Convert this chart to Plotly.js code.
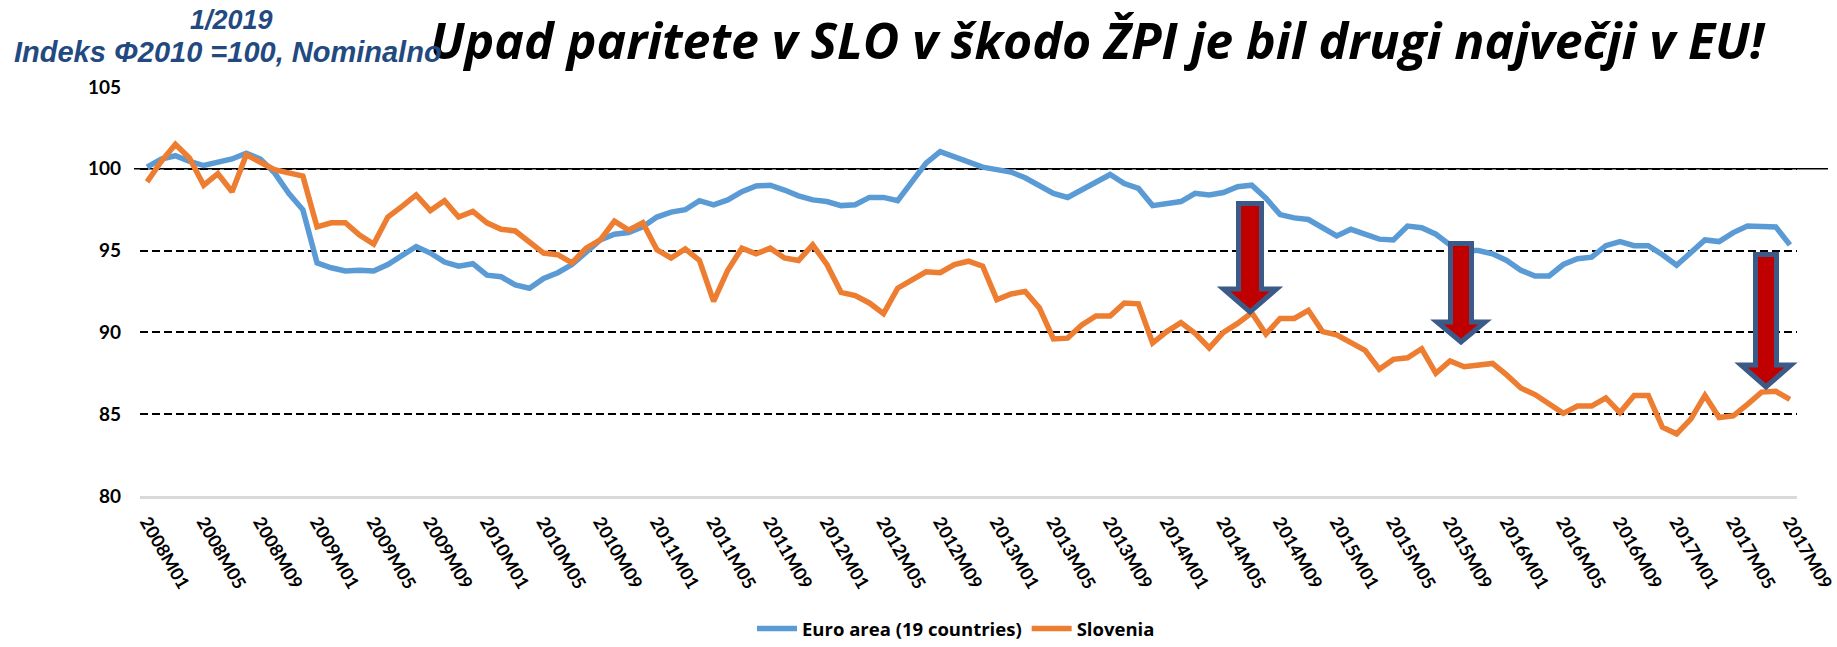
<!DOCTYPE html>
<html>
<head>
<meta charset="utf-8">
<script src="https://cdn.plot.ly/plotly-3.0.1.min.js"></script>
<style>
  html, body { margin: 0; padding: 0; background: #ffffff; }
  #chart { width: 1837px; height: 647px; }
</style>
</head>
<body>
<div id="chart"></div>
<script>
// ---- DATA ----
const years = ['2008','2009','2010','2011','2012','2013','2014','2015','2016','2017'];
const monthCodes = ['M01','M02','M03','M04','M05','M06','M07','M08','M09','M10','M11','M12'];
const months = [];
years.forEach(function (y) { monthCodes.forEach(function (m) { if (months.length < 117) months.push(y + m); }); });

const tickLabels = ['2008M01','2008M05','2008M09','2009M01','2009M05','2009M09','2010M01','2010M05','2010M09',
  '2011M01','2011M05','2011M09','2012M01','2012M05','2012M09','2013M01','2013M05','2013M09','2014M01','2014M05',
  '2014M09','2015M01','2015M05','2015M09','2016M01','2016M05','2016M09','2017M01','2017M05','2017M09'];

const euroArea = [
  100.1, 100.6, 100.8, 100.45, 100.2, 100.4, 100.6, 100.95, 100.6, 99.75, 98.5, 97.5,
  94.25, 93.95, 93.75, 93.8, 93.75, 94.15, 94.75, 95.25, 94.85, 94.3, 94.05, 94.2,
  93.5, 93.4, 92.9, 92.7, 93.3, 93.65, 94.15, 94.9, 95.65, 96.0, 96.1, 96.45,
  97.05, 97.35, 97.5, 98.05, 97.8, 98.1, 98.6, 98.95, 99.0, 98.7, 98.35, 98.1,
  98.0, 97.75, 97.8, 98.25, 98.25, 98.05, 99.2, 100.35, 101.05, 100.75, 100.45, 100.1,
  99.95, 99.8, 99.45, 99.0, 98.5, 98.25, 98.7, 99.2, 99.65, 99.1, 98.8, 97.75,
  97.85, 98.0, 98.5, 98.4, 98.55, 98.9, 99.0, 98.2, 97.2, 97.0, 96.9, 96.4,
  95.9, 96.3, 96.0, 95.7, 95.65, 96.5, 96.4, 96.0, 95.35, 95.0, 95.0, 94.8,
  94.4, 93.8, 93.45, 93.45, 94.15, 94.5, 94.6, 95.3, 95.55, 95.3, 95.3, 94.75,
  94.1, 94.9, 95.65, 95.55, 96.1, 96.5, 96.5, 96.45, 95.35
];

const slovenia = [
  99.2, 100.45, 101.5, 100.65, 99.0, 99.7, 98.6, 100.85, 100.4, 99.95, 99.75, 99.55,
  96.45, 96.7, 96.7, 95.95, 95.4, 97.05, 97.7, 98.4, 97.45, 98.05, 97.05, 97.4,
  96.7, 96.3, 96.2, 95.55, 94.85, 94.75, 94.25, 95.15, 95.65, 96.8, 96.25, 96.7,
  95.05, 94.55, 95.1, 94.4, 91.9, 93.8, 95.15, 94.8, 95.15, 94.55, 94.4, 95.35,
  94.15, 92.45, 92.25, 91.8, 91.15, 92.7, 93.2, 93.7, 93.65, 94.15, 94.35, 94.05,
  92.0, 92.35, 92.5, 91.5, 89.6, 89.65, 90.45, 91.0, 91.0, 91.8, 91.75, 89.35,
  90.05, 90.6, 89.95, 89.05, 90.0, 90.55, 91.2, 89.9, 90.85, 90.85, 91.35, 90.05,
  89.85, 89.4, 88.9, 87.75, 88.35, 88.45, 89.0, 87.5, 88.25, 87.9, 88.0, 88.1,
  87.4, 86.6, 86.2, 85.65, 85.05, 85.5, 85.5, 86.0, 85.1, 86.15, 86.15, 84.2,
  83.8, 84.7, 86.15, 84.8, 84.9, 85.6, 86.35, 86.4, 85.9
];

const seriesNames = ['Euro area (19 countries)', 'Slovenia'];
const yTicks = [80, 85, 90, 95, 100, 105];

const titleText = 'Upad paritete v SLO v škodo ŽPI je bil drugi največji v EU!';
const dateText = '1/2019';
const indexText = 'Indeks Φ2010 =100, Nominalno';

// ---- LAYOUT HELPERS (pixel -> paper) ----
const W = 1837, H = 647;
const PL = 140, PR = 1797, PT = 87, PB = 496;
function fx(x) { return (x - PL) / (PR - PL); }
function fy(y) { return (PB - y) / (PB - PT); }

function arrowPath(cx, top, headBase, tip, shw, hhw) {
  const pts = [
    [cx - shw, top], [cx + shw, top], [cx + shw, headBase], [cx + hhw, headBase],
    [cx, tip], [cx - hhw, headBase], [cx - shw, headBase]
  ];
  return 'M' + pts.map(function (p) { return fx(p[0]).toFixed(5) + ',' + fy(p[1]).toFixed(5); }).join(' L') + ' Z';
}

const arrows = [
  [1250, 203.5, 289, 312, 11.5, 26.5],
  [1461, 243.5, 322, 342, 10.5, 24],
  [1766, 254.5, 365, 387, 10.5, 25]
];

const shapes = [
  {
    type: 'line', xref: 'paper', yref: 'y', x0: fx(134), x1: fx(1828), y0: 100, y1: 100,
    line: { color: '#000000', width: 1.6 }, layer: 'between'
  }
];
arrows.forEach(function (a) {
  shapes.push({
    type: 'path', xref: 'paper', yref: 'paper', path: arrowPath.apply(null, a),
    fillcolor: '#C00000', line: { color: '#3B5A88', width: 5 }, layer: 'above'
  });
});

const tickFontFamily = 'Lato, "Liberation Sans", sans-serif';

const traces = [
  {
    x: months, y: euroArea, name: seriesNames[0], type: 'scatter', mode: 'lines',
    line: { color: '#5B9BD5', width: 5.5, shape: 'linear' }
  },
  {
    x: months, y: slovenia, name: seriesNames[1], type: 'scatter', mode: 'lines',
    line: { color: '#ED7D31', width: 5.5, shape: 'linear' }
  }
];

const layout = {
  width: W, height: H,
  margin: { l: PL, r: W - PR, t: PT, b: H - PB, pad: 0, autoexpand: false },
  paper_bgcolor: '#ffffff', plot_bgcolor: '#ffffff',
  showlegend: true,
  legend: {
    orientation: 'h', x: fx(956), xanchor: 'center', y: fy(629), yanchor: 'middle',
    font: { family: '"Open Sans", Lato, sans-serif', size: 18.5, color: '#000000', weight: 'bold' },
    bgcolor: 'rgba(0,0,0,0)', itemwidth: 40
  },
  xaxis: {
    type: 'category', categoryorder: 'array', categoryarray: months,
    range: [-0.5, months.length - 0.5],
    tickmode: 'array', tickvals: tickLabels, ticktext: tickLabels,
    tickangle: 60, ticks: '', showgrid: false, zeroline: false,
    showline: true, linecolor: '#D9D9D9', linewidth: 2.5,
    tickfont: { family: tickFontFamily, size: 18, color: '#000000', weight: 'bold' },
    ticklabelstandoff: 6, automargin: false
  },
  yaxis: {
    range: [80, 105], tickmode: 'array', tickvals: yTicks,
    showgrid: true, gridcolor: '#000000', gridwidth: 2.2, griddash: '8px,4px',
    zeroline: false, showline: false, ticks: '',
    tickfont: { family: tickFontFamily, size: 19, color: '#000000', weight: 'bold' },
    ticklabelstandoff: 18, automargin: false
  },
  shapes: shapes,
  annotations: [
    {
      text: titleText, xref: 'paper', yref: 'paper', x: fx(1098), y: fy(40),
      xanchor: 'center', yanchor: 'middle', showarrow: false,
      font: { family: '"Open Sans", Lato, sans-serif', size: 50, color: '#000000', weight: 'bold', style: 'italic' }
    },
    {
      text: dateText, xref: 'paper', yref: 'paper', x: fx(231), y: fy(20),
      xanchor: 'center', yanchor: 'middle', showarrow: false,
      font: { family: '"Liberation Sans", Arial, sans-serif', size: 27, color: '#234A80', weight: 'bold', style: 'italic' }
    },
    {
      text: indexText, xref: 'paper', yref: 'paper', x: fx(12), y: fy(52),
      xanchor: 'left', yanchor: 'middle', showarrow: false,
      font: { family: '"Liberation Sans", Arial, sans-serif', size: 29, color: '#234A80', weight: 'bold', style: 'italic' }
    }
  ]
};

Plotly.newPlot('chart', traces, layout, { displayModeBar: false, staticPlot: true });
</script>
</body>
</html>
